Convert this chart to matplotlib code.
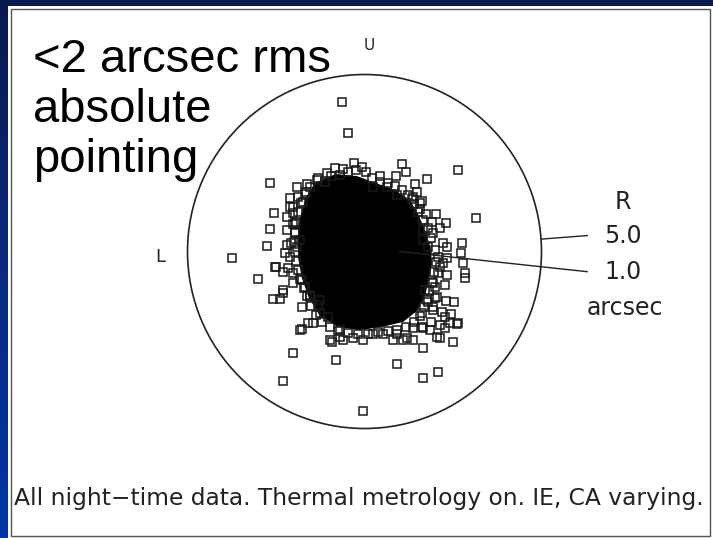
import numpy as np
import matplotlib
matplotlib.use("Agg")
import matplotlib.pyplot as plt
from matplotlib.colors import LinearSegmentedColormap
from matplotlib.patches import Circle, Rectangle

# pointing offsets (arcsec), x: L -> R, y: down -> U
scatter_x = [-0.63, -0.46, -2.67, -1.90, -1.62, -0.83, -0.60, -0.30, -0.08, 0.44,
             0.89, 1.05, 1.17, 1.77, 2.63, 1.43, 1.47, 3.15, -2.55, -2.67,
             -2.76, -3.75, -3.00, -2.58, -2.39, -2.29, -2.15, -2.50, -1.96, -2.10,
             -2.18, -2.20, -1.77, -1.82, -1.59, -2.03, -2.31, -0.81, -0.03, 0.93,
             1.66, 2.08, 1.64, 2.49, 2.60, 2.53, 2.27, 2.84, 2.77, 2.75,
             2.72, 2.32, 2.30, 2.02, 1.74, 1.94, 2.23, 2.08, 2.32, 2.04,
             1.94, 2.27, 2.42, 2.13, 2.04, 1.38, 1.19, 0.91, 0.53, 0.25,
             -0.03, -0.32, -0.60, -0.93, -0.69, -1.45, -1.26, -1.02, 1.38, 1.66,
             1.85, 1.62, 1.80, 1.71, 1.94, 1.80, 1.66, 1.57, 1.38, 0.91,
             0.63, 0.25, -1.07, -1.35, -1.87, -2.01, -1.96, -1.92, -2.10, -2.01,
             -1.68, -1.54, -1.26, -2.10, -2.01, -2.01, -1.65, -1.73, -2.08, -1.82,
             1.33, 1.62, 1.57, 2.13, 1.90, 2.23, 1.66, 2.08, 2.32, 2.13,
             2.84, 1.99, 1.99, 2.30, 1.94, 2.18, 2.44, 2.65, 1.87, 1.62,
             2.27, 2.13, 1.10, 0.81, -2.53, -2.29, -2.03, -2.29, -1.77, -0.97,
             -0.69, -2.25, -2.20, -1.77, -1.54, -1.31]
scatter_y = [4.23, 3.34, 1.94, 1.83, 1.91, 2.35, 2.32, 2.49, 2.40, 2.14,
             2.14, 2.47, 2.24, 2.04, 2.30, 1.91, 1.69, 0.94, 1.08, 0.64,
             0.16, -0.18, -0.79, -1.35, -1.35, -1.18, -0.47, -0.45, 0.51, 1.27,
             0.98, 0.61, -1.58, -2.22, -2.03, -2.88, -3.65, -3.06, -4.50, -3.19,
             -3.58, -3.40, -2.73, -2.55, -2.05, -1.42, -0.95, -0.76, -0.33, 0.23,
             -0.03, 0.14, 0.80, 1.06, 1.06, 0.51, -0.33, -0.62, -0.66, -1.28,
             -1.65, -1.84, -2.03, -2.08, -2.41, -2.50, -2.45, -2.33, -2.33, -2.33,
             -2.50, -2.45, -2.50, -2.55, -2.22, -2.03, -1.75, -1.84, -2.17, -2.17,
             -2.22, -1.75, -1.42, -1.09, -0.90, 0.14, 0.32, 1.36, 1.55, 1.60,
             1.83, 1.83, 2.21, 2.02, 1.55, 1.27, 0.80, 0.14, -0.15, -0.62,
             -0.99, -1.28, -1.37, 1.50, 1.08, 0.78, 1.69, 1.41, 0.23, 0.32,
             1.47, 1.43, 1.19, 0.66, 0.84, 0.23, 0.61, -0.15, -0.19, -0.43,
             -0.62, -0.99, -1.32, -1.40, -1.56, -1.70, -1.77, -2.03, -1.98, -2.14,
             -2.17, -2.45, -2.50, -2.50, -0.43, -0.57, -0.88, -1.09, -2.20, -2.50,
             -2.41, -0.05, 0.18, -0.81, -1.23, -1.51]

# squares crowding the edge of the dense core
band_x = [-1.31, -1.12, -0.95, -0.69, -0.47, -0.24, 0.04, 0.21, 0.44, 0.66, 0.86, 1.06, 1.23,
          1.40, 1.51, 1.65, 1.79, 1.88, 1.99, 2.02, 1.97, 1.91, 1.82, 1.77, 1.68, 1.57,
          1.40, 1.17, 0.92, 0.66, 0.38, 0.10, -0.18, -0.47, -0.75, -0.97, -1.20, -1.37,
          -1.51, -1.62, -1.71, -1.82, -1.88, -1.94, -1.96, -1.99, -1.96, -1.94, -1.88, -1.79,
          -1.68, -1.54]
band_y = [2.08, 1.96, 2.13, 2.16, 2.25, 2.30, 2.25, 2.08, 1.96, 1.94, 1.85, 1.74, 1.60,
          1.34, 1.12, 0.89, 0.66, 0.38, 0.04, -0.30, -0.58, -0.86, -1.12, -1.37, -1.57, -1.82,
          -1.99, -2.13, -2.22, -2.25, -2.27, -2.33, -2.33, -2.30, -2.25, -2.13, -1.99, -1.79,
          -1.54, -1.26, -1.03, -0.78, -0.52, -0.27, -0.01, 0.27, 0.55, 0.83, 1.12, 1.37,
          1.62, 1.82]

# outline of the saturated core of the distribution (arcsec)
core_x = [-1.40, -0.81, -0.21, 0.30, 0.86, 1.29, 1.51, 1.71, 1.85, 1.91,
          1.80, 1.69, 1.48, 1.09, 0.49, -0.13, -0.75, -1.26, -1.57, -1.77,
          -1.88, -1.88, -1.82, -1.65]
core_y = [1.94, 2.19, 2.13, 1.94, 1.74, 1.45, 1.06, 0.61, 0.16, -0.32,
          -0.89, -1.31, -1.68, -1.99, -2.13, -2.22, -2.13, -1.82, -1.31, -0.75,
          -0.16, 0.41, 0.97, 1.54]

outer_radius = 5.0
ring_radii = [5.0, 1.0]
ring_labels = ["5.0", "1.0"]
caption = "All night\u2212time data. Thermal metrology on. IE, CA varying."
headline = ["<2 arcsec rms", "absolute", "pointing"]

fig = plt.figure(figsize=(7.13, 5.38), dpi=100)

# slide background with the white panel
bg = fig.add_axes([0, 0, 1, 1])
bg.set_zorder(0)
grad = np.linspace(0, 1, 256).reshape(-1, 1)
slide = LinearSegmentedColormap.from_list("slide", ["#081a4e", "#0a2a80", "#0036a8"])
bg.imshow(grad, aspect="auto", cmap=slide, extent=[0, 1, 0, 1], origin="upper")
bg.set_xlim(0, 1)
bg.set_ylim(0, 1)
bg.add_patch(Rectangle((8 / 713, 0), 705 / 713, 532 / 538, facecolor="white", edgecolor="none"))
bg.add_patch(Rectangle((11 / 713, 2 / 538), 699 / 713, 527 / 538, facecolor="none",
                       edgecolor="#555555", lw=1.0))
bg.axis("off")

ax = fig.add_axes([0, 0, 1, 1])
ax.set_zorder(1)
ax.set_xlim(-10.297, 9.845)
ax.set_ylim(-8.093, 7.105)
ax.patch.set_alpha(0)
ax.axis("off")

ax.fill(core_x, core_y, color="black", lw=0, zorder=2)
ax.plot(scatter_x + band_x, scatter_y + band_y, "s", mfc="none", mec="#1a1a1a",
        ms=5.2, mew=1.1, zorder=3)
ax.add_patch(Circle((0, 0), outer_radius, fill=False, ec="#222222", lw=1.2, zorder=3))

# pointers to the radius labels
label_x = 7.30
label_y = [0.45, -0.57]
for r, lab, ly, ang in zip(ring_radii, ring_labels, label_y, [0.07, 0.0]):
    ax.plot([r * np.cos(ang), 6.29], [r * np.sin(ang), ly], color="#222222", lw=1.0, zorder=4)
    ax.text(label_x, ly, lab, fontsize=17, ha="center", va="center", color="#222222")

ax.text(label_x, 1.41, "R", fontsize=17, ha="center", va="center", color="#222222")
ax.text(7.36, -1.60, "arcsec", fontsize=17, ha="center", va="center", color="#222222")
ax.text(0.13, 5.83, "U", fontsize=11, ha="center", va="center", color="#222222")
ax.text(-5.78, -0.16, "L", fontsize=13, ha="center", va="center", color="#222222")

for i, line in enumerate(headline):
    ax.text(33 / 713, 1 - (72 + 50 * i) / 538, line, fontsize=34, family="Liberation Sans",
            ha="left", va="baseline", color="black", transform=ax.transAxes, zorder=5)

cap = ax.text(14 / 713, 1 - 498 / 538, caption, fontsize=14, ha="left", va="center",
              color="#222222", transform=ax.transAxes)
fig.canvas.draw()
w = cap.get_window_extent().width
cap.set_fontsize(14 * 692 / w)

fig.savefig("out.png", dpi=100)
